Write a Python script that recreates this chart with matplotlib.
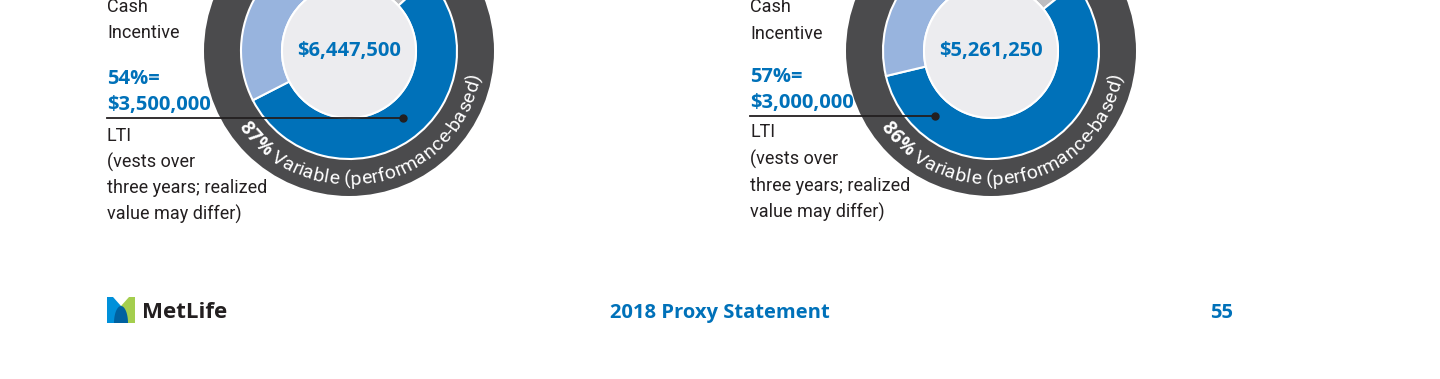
import numpy as np
import matplotlib
import matplotlib.pyplot as plt
from matplotlib.patches import Circle, Polygon

matplotlib.use('Agg')
plt.rcParams['font.family'] = ['Open Sans', 'DejaVu Sans']

W, H = 1440, 379

# pay mix: base salary, LTI, cash incentive
pay_labels = ['Base Salary', 'LTI', 'Cash Incentive']
pay_left = [850000, 3500000, 2097500]
pay_right = [750000, 3000000, 1511250]
total_labels = ['$6,447,500', '$5,261,250']
lti_pct_labels = ['54%=', '57%=']
lti_amt_labels = ['$3,500,000', '$3,000,000']
variable_labels = ['87%', '86%']
lti_notes = ['LTI', '(vests over', 'three years; realized', 'value may differ)']

BLUE = '#0071b9'
LIGHT = '#98b4de'
GREY = '#bdbdc0'
DARK = '#4b4b4d'
CENTER = '#ececef'
TEXT = '#231f20'
BODY = dict(family=['Roboto', 'DejaVu Sans'], fontweight='normal', fontsize=13)
ARC_BOLD = dict(family=['Open Sans', 'DejaVu Sans'], fontweight='bold', fontsize=13.5)
ARC_REG = dict(family=['Roboto', 'DejaVu Sans'], fontweight='normal', fontsize=14)

fig = plt.figure(figsize=(14.4, 3.79), dpi=100)
ax = fig.add_axes([0, 0, 1, 1])
renderer = fig.canvas.get_renderer()


def py(y):
    # page pixel row -> data y
    return H - y


def advances(text, props):
    ref = ax.text(0, 0, 'l', **props)
    wl = ref.get_window_extent(renderer).width
    ref.remove()
    out, prev = [], 0.0
    for i in range(1, len(text) + 1):
        t = ax.text(0, 0, text[:i] + 'l', **props)
        w = t.get_window_extent(renderer).width - wl
        t.remove()
        out.append(w - prev)
        prev = w
    return out


def curved_text(cx, cy, r_base, mid_deg, parts):
    chars = []
    for txt, props in parts:
        for ch, a in zip(txt, advances(txt, props)):
            chars.append((ch, props, a))
    r_mid = r_base - 5
    total = sum(a for _, _, a in chars)
    theta = np.radians(mid_deg) - total / 2 / r_mid
    for ch, props, a in chars:
        tc = theta + a / 2 / r_mid
        ax.text(cx + r_base * np.cos(tc), cy + r_base * np.sin(tc), ch,
                color='white', rotation=np.degrees(tc) + 90, rotation_mode='anchor',
                ha='center', va='baseline', zorder=5, **props)
        theta += a / r_mid


def donut(cx, cy, values, total, var_pct):
    ax.add_patch(Circle((cx, cy), 145, fc=DARK, ec='none', zorder=1))
    ax.pie(values, radius=108, center=(cx, cy), startangle=90, counterclock=False,
           colors=[GREY, BLUE, LIGHT],
           wedgeprops=dict(width=41, edgecolor='white', linewidth=1.5, zorder=2))
    ax.add_patch(Circle((cx, cy), 67, fc=CENTER, ec='white', lw=1.5, zorder=3))
    ax.text(cx, cy, total, fontsize=14.5, fontweight='bold', color=BLUE,
            ha='center', va='center', zorder=4)
    curved_text(cx, cy, 134, 282, [(var_pct, ARC_BOLD),
                                   (' Variable (performance-based)', ARC_REG)])


def side_labels(x, rows, pct, amt, line_y, cx, cy, side):
    ax.text(x, py(rows[0]), 'Cash', color=TEXT, va='center', **BODY)
    ax.text(x, py(rows[1]), 'Incentive', color=TEXT, va='center', **BODY)
    ax.text(x, py(rows[2]), pct, fontsize=14.5, fontweight='bold', color=BLUE, va='center')
    ax.text(x, py(rows[3]), amt, fontsize=14.5, fontweight='bold', color=BLUE, va='center')
    for y, s in zip(rows[4:], lti_notes):
        ax.text(x, py(y), s, color=TEXT, va='center', **BODY)
    dy = py(line_y) - cy
    dot_x = cx + side * np.sqrt(86 ** 2 - dy ** 2)
    ax.plot([x, dot_x], [py(line_y)] * 2, color=TEXT, lw=1.3, zorder=6)
    ax.plot(dot_x, py(line_y), 'o', ms=5, color=TEXT, zorder=6)


donut(349, py(51), pay_left, total_labels[0], variable_labels[0])
donut(991, py(51), pay_right, total_labels[1], variable_labels[1])
side_labels(107, [7, 33, 79, 105, 136, 162, 188, 214], lti_pct_labels[0],
            lti_amt_labels[0], 118, 349, py(51), 1)
side_labels(750, [7, 34, 77, 103, 132, 159, 186, 212], lti_pct_labels[1],
            lti_amt_labels[1], 116, 991, py(51), -1)

# footer: logo, title, page number
ax.add_patch(Polygon([(107, py(297)), (113, py(297)), (121, py(306)), (121, py(323)),
                      (107, py(323))], fc='#0090da', ec='none'))
ax.add_patch(Polygon([(135, py(297)), (129, py(297)), (121, py(306)), (121, py(323)),
                      (135, py(323))], fc='#a4ce4e', ec='none'))
t = np.linspace(0, np.pi, 30)
ax.add_patch(Polygon(np.column_stack([121 + 7 * np.cos(t), py(323) + 17 * np.sin(t)]),
                     fc='#0061a0', ec='none'))
ax.text(142, py(312), 'MetLife', fontsize=16, fontweight='bold', color=TEXT,
        va='center')
ax.text(720, py(313), '2018 Proxy Statement', fontsize=14.5, fontweight='bold',
        color=BLUE, ha='center', va='center')
ax.text(1233, py(313), '55', fontsize=14.5, fontweight='bold', color=BLUE,
        ha='right', va='center')

ax.set_xlim(0, W)
ax.set_ylim(0, H)
ax.set_aspect('auto')
ax.axis('off')
fig.savefig('out.png', dpi=100, facecolor='white')
